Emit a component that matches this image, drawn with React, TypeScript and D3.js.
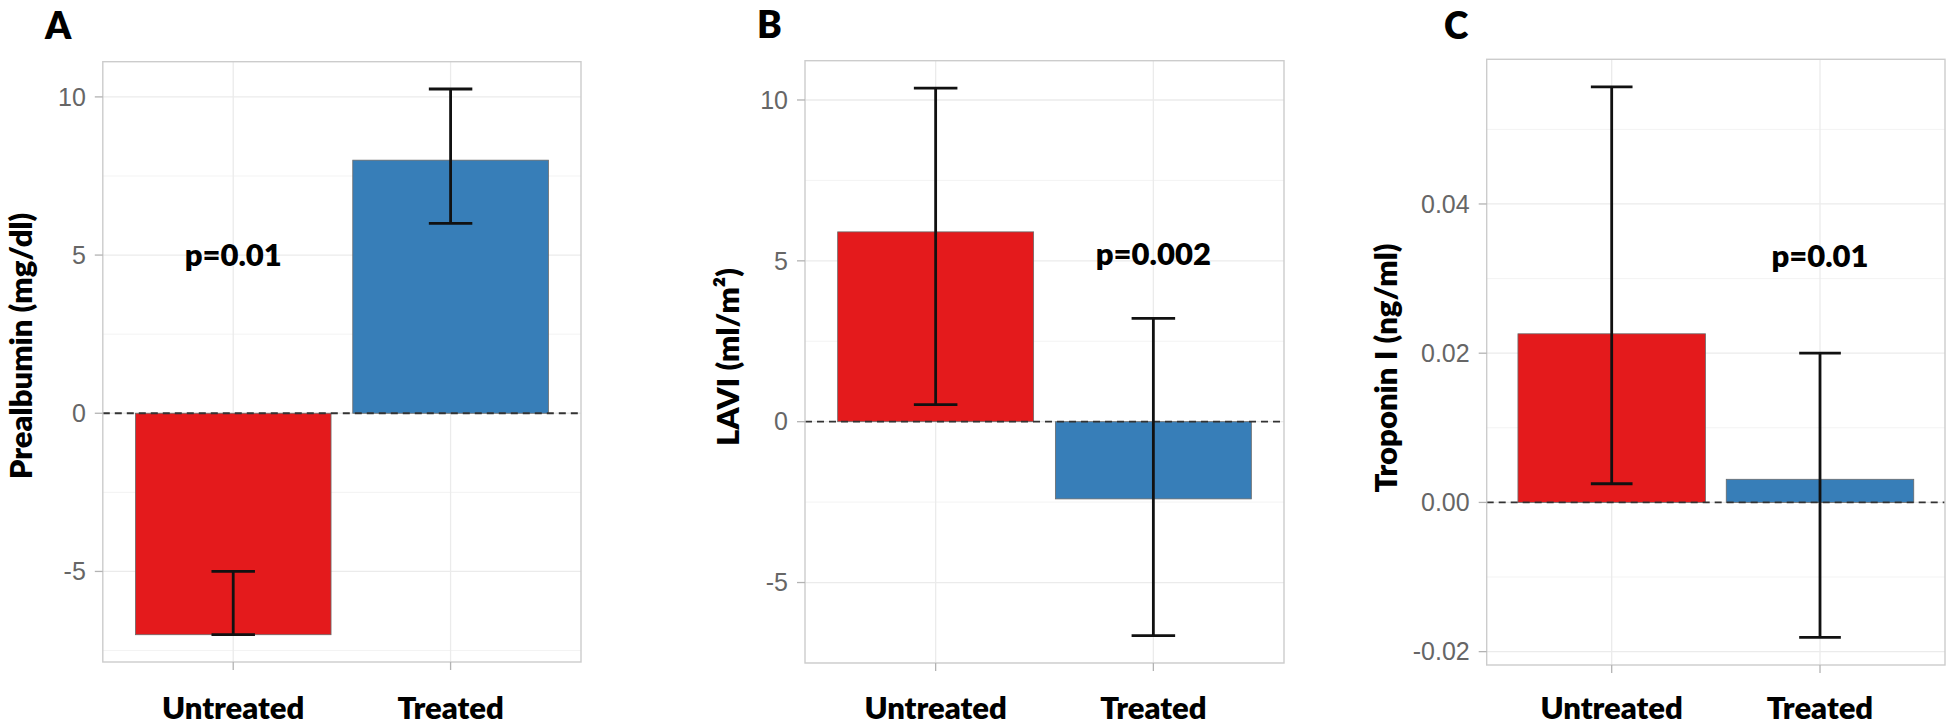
import React from "react";
import * as d3 from "d3";

// ---- data ----
const categories = ["Untreated", "Treated"];
const barColors = ["#E41A1C", "#377EB8"];

const panelLetters = ["A", "B", "C"];
const yTitles = ["Prealbumin (mg/dl)", "LAVI (ml/m²)", "Troponin I (ng/ml)"];

const prealbuminMean = [-7.0, 8.0];
const prealbuminLow = [-7.0, 6.0];
const prealbuminHigh = [-5.0, 10.25];

const laviMean = [5.9, -2.4];
const laviLow = [0.53, -6.65];
const laviHigh = [10.37, 3.21];

const troponinMean = [0.0226, 0.0031];
const troponinLow = [0.0025, -0.0181];
const troponinHigh = [0.0557, 0.02];

const pLabels = ["p=0.01", "p=0.002", "p=0.01"];
const pLabelCategory = ["Untreated", "Treated", "Treated"];
const pLabelValue = [5, 5.2, 0.033];

const prealbuminTicks = [-5, 0, 5, 10];
const prealbuminTickLabels = ["-5", "0", "5", "10"];
const prealbuminMinor = [-7.5, -2.5, 2.5, 7.5];

const laviTicks = [-5, 0, 5, 10];
const laviTickLabels = ["-5", "0", "5", "10"];
const laviMinor = [-7.5, -2.5, 2.5, 7.5];

const troponinTicks = [-0.02, 0, 0.02, 0.04];
const troponinTickLabels = ["-0.02", "0.00", "0.02", "0.04"];
const troponinMinor = [-0.01, 0.01, 0.03, 0.05];

// ---- layout (positions only) ----
const layouts = [
  { left: 102.8, right: 581, top: 61.7, bottom: 662, titleX: 32, titleY: 346, letterX: 45, letterY: 39 },
  { left: 805, right: 1284, top: 60.7, bottom: 663, titleX: 739, titleY: 357, letterX: 757, letterY: 38 },
  { left: 1486.7, right: 1945, top: 59.3, bottom: 665, titleX: 1397, titleY: 368, letterX: 1444, letterY: 39 },
];

const panels = [
  { mean: prealbuminMean, low: prealbuminLow, high: prealbuminHigh, ticks: prealbuminTicks, tickLabels: prealbuminTickLabels, minor: prealbuminMinor },
  { mean: laviMean, low: laviLow, high: laviHigh, ticks: laviTicks, tickLabels: laviTickLabels, minor: laviMinor },
  { mean: troponinMean, low: troponinLow, high: troponinHigh, ticks: troponinTicks, tickLabels: troponinTickLabels, minor: troponinMinor },
];

const BOLD = "Lato, 'Open Sans', sans-serif";
const HEAVY = 800;
const TICKFONT = "'Liberation Sans', Arial, sans-serif";

function Panel({ idx }: { idx: number }) {
  const L = layouts[idx];
  const P = panels[idx];
  const all = [0, ...P.mean, ...P.low, ...P.high];
  const [mn, mx] = d3.extent(all) as [number, number];
  const pad = (mx - mn) * 0.05;
  const y = d3.scaleLinear().domain([mn - pad, mx + pad]).range([L.bottom, L.top]);
  const x = d3
    .scaleBand<string>()
    .domain(categories)
    .range([L.left, L.right])
    .paddingInner(0.1)
    .paddingOuter(0.15);
  const step = x.step();
  const bw = x.bandwidth();
  const cx = (c: string) => (x(c) as number) + bw / 2;
  const capHalf = step * 0.1;

  return (
    <g>
      {P.minor.map((v) => (
        <line key={"mi" + v} x1={L.left} x2={L.right} y1={y(v)} y2={y(v)} stroke="#F3F3F3" strokeWidth={1} />
      ))}
      {P.ticks.map((v) => (
        <line key={"ma" + v} x1={L.left} x2={L.right} y1={y(v)} y2={y(v)} stroke="#EBEBEB" strokeWidth={1.3} />
      ))}
      {categories.map((c) => (
        <line key={"vx" + c} x1={cx(c)} x2={cx(c)} y1={L.top} y2={L.bottom} stroke="#EBEBEB" strokeWidth={1.3} />
      ))}
      {categories.map((c, i) => {
        const v = P.mean[i];
        const y0 = y(0);
        const y1 = y(v);
        return (
          <rect
            key={"b" + c}
            x={x(c)}
            width={bw}
            y={Math.min(y0, y1)}
            height={Math.abs(y1 - y0)}
            fill={barColors[i]}
            stroke="#6a6a6a"
            strokeWidth={0.8}
          />
        );
      })}
      <line x1={L.left} x2={L.right} y1={y(0)} y2={y(0)} stroke="#333" strokeWidth={1.8} strokeDasharray="7 5" />
      {categories.map((c, i) => {
        const xc = cx(c);
        return (
          <g key={"e" + c} stroke="#111" strokeWidth={2.8}>
            <line x1={xc} x2={xc} y1={y(P.low[i])} y2={y(P.high[i])} />
            <line x1={xc - capHalf} x2={xc + capHalf} y1={y(P.high[i])} y2={y(P.high[i])} />
            <line x1={xc - capHalf} x2={xc + capHalf} y1={y(P.low[i])} y2={y(P.low[i])} />
          </g>
        );
      })}
      <rect x={L.left} y={L.top} width={L.right - L.left} height={L.bottom - L.top} fill="none" stroke="#CCCCCC" strokeWidth={1.4} />
      {P.ticks.map((v, k) => (
        <g key={"yt" + v}>
          <line x1={L.left - 8} x2={L.left} y1={y(v)} y2={y(v)} stroke="#B3B3B3" strokeWidth={1.3} />
          <text x={L.left - 17} y={y(v)} dy="0.35em" textAnchor="end" fontFamily={TICKFONT} fontSize={25} fill="#666666">
            {P.tickLabels[k]}
          </text>
        </g>
      ))}
      {categories.map((c) => (
        <g key={"xt" + c}>
          <line x1={cx(c)} x2={cx(c)} y1={L.bottom} y2={L.bottom + 8} stroke="#B3B3B3" strokeWidth={1.3} />
          <text x={cx(c)} y={719} textAnchor="middle" fontFamily={BOLD} fontWeight={HEAVY} fontSize={31} fill="#000">
            {c}
          </text>
        </g>
      ))}
      <text
        x={cx(pLabelCategory[idx])}
        y={y(pLabelValue[idx])}
        dy="0.35em"
        textAnchor="middle"
        fontFamily={BOLD}
        fontWeight={HEAVY}
        fontSize={31}
        fill="#000"
      >
        {pLabels[idx]}
      </text>
      <text
        transform={`translate(${L.titleX},${L.titleY}) rotate(-90)`}
        textAnchor="middle"
        fontFamily={BOLD}
        fontWeight={HEAVY}
        fontSize={31}
        fill="#000"
      >
        {yTitles[idx]}
      </text>
      <text x={L.letterX} y={L.letterY} fontFamily={BOLD} fontWeight={HEAVY} fontSize={37} fill="#000">
        {panelLetters[idx]}
      </text>
    </g>
  );
}

export default function App() {
  return (
    <svg width={1950} height={728} viewBox="0 0 1950 728" style={{ position: "absolute", left: 0, top: 0, background: "#fff" }}>
      <rect x={0} y={0} width={1950} height={728} fill="#fff" />
      {panels.map((_, i) => (
        <Panel key={i} idx={i} />
      ))}
    </svg>
  );
}
